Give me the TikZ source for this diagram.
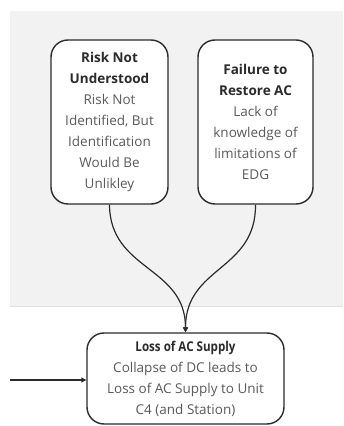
\documentclass[tikz,border=0pt]{standalone}
\usepackage{fontspec}
\setmainfont{Open Sans}
\usetikzlibrary{arrows.meta}
\definecolor{bandgray}{HTML}{F2F2F2}
\definecolor{bandedge}{HTML}{E0E0E0}
\definecolor{inkdark}{HTML}{2B2B2B}
\definecolor{bodygray}{HTML}{5A5A5A}
\tikzset{
  x=1pt, y=1pt,
  eventbox/.style={draw=inkdark, line width=1.4pt, rounded corners=17pt, fill=white,
    align=center, inner sep=0pt, font=\fontsize{13.5}{21}\selectfont},
  link/.style={draw=inkdark, line width=1.2pt, -{Triangle[length=5pt,width=5pt]}},
}
\newcommand{\ttl}[1]{{\bfseries\color{inkdark}#1}}
\newcommand{\bdy}[1]{{\color{bodygray}#1}}
\begin{document}
\begin{tikzpicture}
  \useasboundingbox (0,0) rectangle (343,426);
  % shaded band behind the upper row
  \fill[bandgray] (10,119) rectangle (343,415);
  \draw[bandedge, line width=1pt] (10,119) -- (343,119);

  % upper row of causes
  \node[eventbox, minimum width=117pt, minimum height=164pt] (risk) at (109.5,304)
    {\ttl{Risk Not}\\ \ttl{Understood}\\ \bdy{Risk Not}\\ \bdy{Identified, But}\\ \bdy{Identification}\\ \bdy{Would Be}\\ \bdy{Unlikley}};
  \node[eventbox, minimum width=115pt, minimum height=164pt] (fail) at (255.5,304)
    {\ttl{Failure to}\\ \ttl{Restore AC}\\ \bdy{Lack of}\\ \bdy{knowledge of}\\ \bdy{limitations of}\\ \bdy{EDG}};

  % consequence
  \node[eventbox, minimum width=197pt, minimum height=91pt] (loss) at (185.5,47.5)
    {\ttl{\scalebox{0.86}[1]{Loss of AC Supply}}\\ \bdy{Collapse of DC leads to}\\ \bdy{Loss of AC Supply to Unit}\\ \bdy{C4 (and Station)}};

  \coordinate (feed) at (10,46);

  \draw[link] (risk.south) .. controls (110,155) and (185.5,160) .. (loss.north);
  \draw[link] (fail.south) .. controls (256,155) and (185.5,160) .. (loss.north);
  \draw[link] (feed) -- (feed -| loss.west);
\end{tikzpicture}
\end{document}
